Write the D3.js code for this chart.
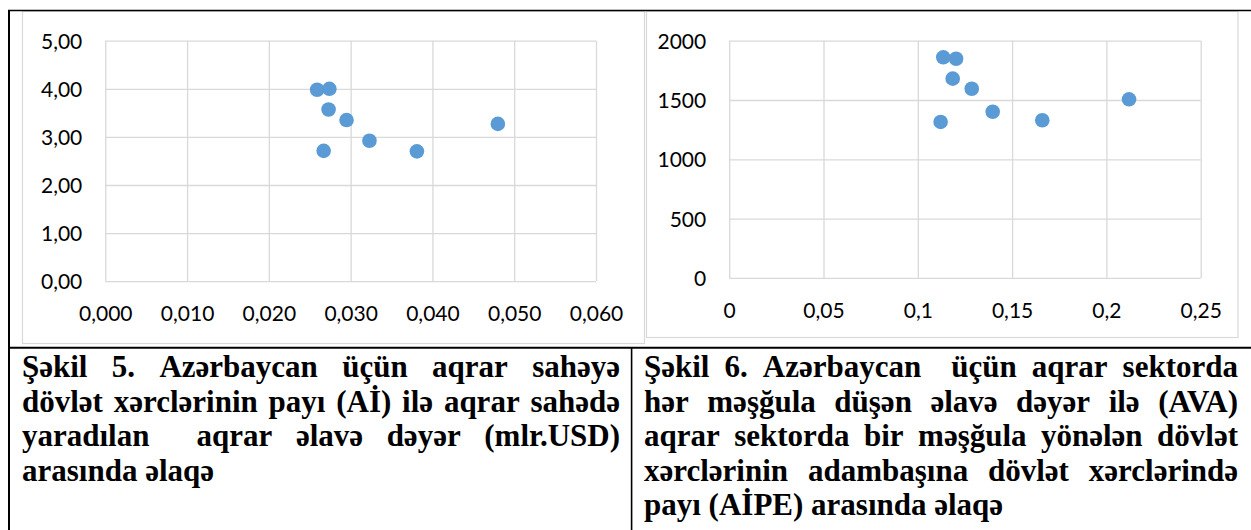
<!DOCTYPE html>
<html>
<head>
<meta charset="utf-8">
<script src="https://cdn.jsdelivr.net/npm/d3@7/dist/d3.min.js"></script>
<style>
  body { margin: 0; background: #fff; }
  svg { display: block; }
</style>
</head>
<body>
<div id="figure"></div>
<script>
//********************************************************************//
//
//                    DATA
//
//*******************************************************************//

// Şəkil 5: share of state spending (Aİ) vs agrarian value added (mlr.USD)
var aiShare    = [0.0259, 0.0274, 0.0273, 0.0295, 0.0323, 0.0267, 0.0381, 0.0480];
var agriValue  = [3.98, 4.00, 3.57, 3.35, 2.92, 2.71, 2.70, 3.27];

// Şəkil 6: AİPE share vs value added per worker (AVA)
var aipeShare  = [0.1135, 0.1203, 0.1185, 0.1286, 0.1397, 0.1121, 0.1660, 0.2120];
var avaWorker  = [1860, 1848, 1680, 1595, 1401, 1315, 1329, 1506];

var leftXTicks  = [0, 0.01, 0.02, 0.03, 0.04, 0.05, 0.06];
var leftXLabels = ["0,000", "0,010", "0,020", "0,030", "0,040", "0,050", "0,060"];
var leftYTicks  = [0, 1, 2, 3, 4, 5];
var leftYLabels = ["0,00", "1,00", "2,00", "3,00", "4,00", "5,00"];

var rightXTicks  = [0, 0.05, 0.1, 0.15, 0.2, 0.25];
var rightXLabels = ["0", "0,05", "0,1", "0,15", "0,2", "0,25"];
var rightYTicks  = [0, 500, 1000, 1500, 2000];
var rightYLabels = ["0", "500", "1000", "1500", "2000"];

var caption5 = ["Şəkil 5. Azərbaycan üçün aqrar sahəyə",
                "dövlət xərclərinin payı (Aİ) ilə aqrar sahədə",
                "yaradılan  aqrar əlavə dəyər (mlr.USD)",
                "arasında əlaqə"];

var caption6 = ["Şəkil 6. Azərbaycan  üçün aqrar sektorda",
                "hər məşğula düşən əlavə dəyər ilə (AVA)",
                "aqrar sektorda bir məşğula yönələn dövlət",
                "xərclərinin adambaşına dövlət xərclərində",
                "payı (AİPE) arasında əlaqə"];

//********************************************************************//
//
//                    LAYOUT
//
//*******************************************************************//

var W = 1251, H = 530;
var gridColor = "#d9d9d9";
var dotColor = "#5b9bd5";
var tickFont = "Lato, 'Open Sans', sans-serif";
var capFont = "'Liberation Serif', 'DejaVu Serif', 'Times New Roman', serif";

var svg = d3.select("#figure")
  .append("svg")
    .attr("width", W)
    .attr("height", H);

// chart areas (light frames of the embedded excel charts)
svg.append("rect")
   .attr("x", 22.5).attr("y", 11.5)
   .attr("width", 622).attr("height", 332)
   .attr("fill", "none").attr("stroke", gridColor).attr("stroke-width", 1.2);

svg.append("rect")
   .attr("x", 646.5).attr("y", 11.5)
   .attr("width", 591.5).attr("height", 326)
   .attr("fill", "none").attr("stroke", gridColor).attr("stroke-width", 1.2);

drawScatter({xs: aiShare, ys: agriValue,
             xDomain: [0, 0.06], yDomain: [0, 5],
             xRange: [105.3, 596], yRange: [281.2, 40.7],
             xTicks: leftXTicks, xLabels: leftXLabels,
             yTicks: leftYTicks, yLabels: leftYLabels});

drawScatter({xs: aipeShare, ys: avaWorker,
             xDomain: [0, 0.25], yDomain: [0, 2000],
             xRange: [729.2, 1200.7], yRange: [277.9, 40.7],
             xTicks: rightXTicks, xLabels: rightXLabels,
             yTicks: rightYTicks, yLabels: rightYLabels});

// table lines
var table = svg.append("g").attr("stroke", "#000").attr("fill", "none");
table.append("line").attr("x1", 8).attr("x2", W).attr("y1", 10.5).attr("y2", 10.5).attr("stroke-width", 1.5);
table.append("line").attr("x1", 9).attr("x2", 9).attr("y1", 10).attr("y2", H).attr("stroke-width", 2);
table.append("line").attr("x1", 8).attr("x2", W).attr("y1", 347.8).attr("y2", 347.8).attr("stroke-width", 2);
table.append("line").attr("x1", 631.6).attr("x2", 631.6).attr("y1", 347).attr("y2", H).attr("stroke-width", 1.6);

drawCaption(caption5, 22, 620);
drawCaption(caption6, 644, 1238);

//********************************************************************//
//
//                    FUNCTIONS
//
//*******************************************************************//

function drawScatter({xs, ys, xDomain, yDomain, xRange, yRange,
                      xTicks, xLabels, yTicks, yLabels, r = 7.3}) {

  var x = d3.scaleLinear().domain(xDomain).range(xRange);
  var y = d3.scaleLinear().domain(yDomain).range(yRange);
  var g = svg.append("g");

  // vertical gridlines
  g.append("g")
   .attr("transform", "translate(0," + yRange[0] + ")")
   .call(d3.axisBottom(x).tickValues(xTicks).tickFormat("")
           .tickSize(-(yRange[0] - yRange[1])).tickSizeOuter(0))
   .call(a => a.select(".domain").remove())
   .selectAll("line").attr("stroke", gridColor).attr("stroke-width", 1.3);

  // horizontal gridlines
  g.append("g")
   .attr("transform", "translate(" + xRange[0] + ",0)")
   .call(d3.axisLeft(y).tickValues(yTicks).tickFormat("")
           .tickSize(-(xRange[1] - xRange[0])).tickSizeOuter(0))
   .call(a => a.select(".domain").remove())
   .selectAll("line").attr("stroke", gridColor).attr("stroke-width", 1.3);

  // x labels
  var xa = g.append("g")
   .attr("transform", "translate(0," + yRange[0] + ")")
   .call(d3.axisBottom(x).tickValues(xTicks).tickSize(0).tickPadding(25)
           .tickFormat((d, i) => xLabels[i]));
  xa.select(".domain").remove();
  xa.selectAll("text").attr("font-family", tickFont).attr("font-size", 21).attr("fill", "#000");

  // y labels
  var ya = g.append("g")
   .attr("transform", "translate(" + xRange[0] + ",0)")
   .call(d3.axisLeft(y).tickValues(yTicks).tickSize(0).tickPadding(23)
           .tickFormat((d, i) => yLabels[i]));
  ya.select(".domain").remove();
  ya.selectAll("text").attr("font-family", tickFont).attr("font-size", 21)
    .attr("fill", "#000").attr("dy", "0.36em");

  // points
  g.selectAll("circle")
   .data(xs.map((d, i) => ({x: d, y: ys[i]})))
   .enter()
   .append("circle")
     .attr("cx", d => x(d.x))
     .attr("cy", d => y(d.y))
     .attr("r", r)
     .attr("fill", dotColor);
}

// justified caption lines (last line left aligned)
function drawCaption(lines, x0, x1, base = 377, lh = 34.5) {
  var g = svg.append("g")
    .attr("font-family", capFont)
    .attr("font-weight", "bold")
    .attr("font-size", 31)
    .attr("fill", "#000");

  lines.forEach(function(line, li) {
    var yy = base + li * lh;
    if (li == lines.length - 1) {
      g.append("text").attr("x", x0).attr("y", yy).text(line);
      return;
    }
    var words = line.split(" ");
    var nodes = words.map(w => g.append("text").attr("y", yy).text(w));
    var widths = nodes.map(n => w0(n));
    var total = d3.sum(widths);
    var gap = (x1 - x0 - total) / (words.length - 1);
    var cx = x0;
    nodes.forEach(function(n, i) {
      n.attr("x", cx);
      cx += widths[i] + gap;
    });
  });
}

function w0(sel) {
  return sel.text() ? sel.node().getComputedTextLength() : 0;
}
</script>
</body>
</html>
